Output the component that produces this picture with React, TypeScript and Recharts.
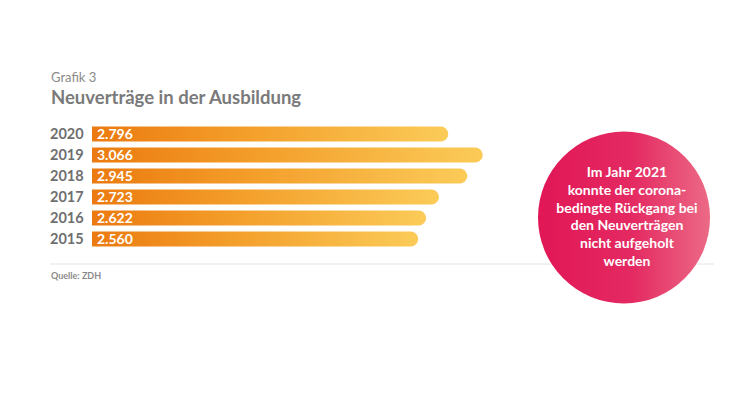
import { Bar, BarChart, LabelList, XAxis, YAxis } from 'recharts'

const years = ['2020', '2019', '2018', '2017', '2016', '2015']
const contracts = [2796, 3066, 2945, 2723, 2622, 2560]

const overline = 'Grafik 3'
const title = 'Neuverträge in der Ausbildung'
const source = 'Quelle: ZDH'
const calloutLines = [
  'Im Jahr 2021',
  'konnte der corona-',
  'bedingte Rückgang bei',
  'den Neuverträgen',
  'nicht aufgeholt',
  'werden',
]

const data = years.map((year, i) => ({ year, value: contracts[i] }))

const FONT = 'Lato, "Open Sans", sans-serif'
const LEFT = 50

const formatDe = (v: number) => {
  const s = String(Math.round(v))
  return s.length > 3 ? `${s.slice(0, -3)}.${s.slice(-3)}` : s
}

function YearTick({ y, payload }: any) {
  return (
    <text
      x={LEFT}
      y={y}
      dy="0.36em"
      textAnchor="start"
      fill="#6f6f6f"
      fontFamily={FONT}
      fontWeight={700}
      fontSize={14.5}
    >
      {payload.value}
    </text>
  )
}

export default function App() {
  return (
    <div
      style={{
        position: 'relative',
        width: 750,
        height: 395,
        margin: -8,
        background: '#fff',
        overflow: 'hidden',
      }}
    >
      <div style={{ position: 'absolute', left: 0, top: 0 }}>
        <BarChart
          width={750}
          height={395}
          data={data}
          layout="vertical"
          barSize={15}
          margin={{ top: 123.5, right: 212, bottom: 145.5, left: LEFT }}
        >
          <defs>
            <linearGradient id="barFill" x1="0" y1="0" x2="1" y2="0">
              <stop offset="0%" stopColor="#eb7a10" />
              <stop offset="45%" stopColor="#f4a02c" />
              <stop offset="100%" stopColor="#fbcb58" />
            </linearGradient>
          </defs>
          <XAxis type="number" domain={[0, 3500]} hide />
          <YAxis
            type="category"
            dataKey="year"
            width={42}
            axisLine={false}
            tickLine={false}
            tick={<YearTick />}
            interval={0}
          />
          <Bar
            dataKey="value"
            fill="url(#barFill)"
            radius={[0, 7.5, 7.5, 0]}
            isAnimationActive={false}
          >
            <LabelList
              dataKey="value"
              position="insideLeft"
              offset={5}
              formatter={(v: any) => formatDe(Number(v))}
              fill="#ffffff"
              fontFamily={FONT}
              fontWeight={700}
              fontSize={14}
            />
          </Bar>
        </BarChart>
      </div>
      <svg
        width={750}
        height={395}
        style={{ position: 'absolute', left: 0, top: 0, pointerEvents: 'none' }}
      >
        <defs>
          <linearGradient id="circleFill" x1="0" y1="0" x2="1" y2="0">
            <stop offset="0%" stopColor="#e11656" />
            <stop offset="55%" stopColor="#e42a62" />
            <stop offset="100%" stopColor="#ec6a86" />
          </linearGradient>
        </defs>
        <text x={LEFT + 1} y={81.5} fill="#8a8a8a" fontFamily={FONT} fontSize={13}>
          {overline}
        </text>
        <text
          x={LEFT + 1}
          y={104}
          fill="#7a7a7a"
          fontFamily={FONT}
          fontWeight={700}
          fontSize={18.5}
        >
          {title}
        </text>
        <line x1={LEFT} x2={714} y1={264} y2={264} stroke="#e3e3e3" strokeWidth={1} />
        <text
          x={LEFT + 1}
          y={279}
          fill="#8a8a8a"
          fontFamily={FONT}
          fontWeight={700}
          fontSize={9}
        >
          {source}
        </text>
        <circle cx={624} cy={217.5} r={86} fill="url(#circleFill)" />
        {calloutLines.map((line, i) => (
          <text
            key={line}
            x={627}
            y={177.3 + i * 17.7}
            textAnchor="middle"
            fill="#ffffff"
            fontFamily={FONT}
            fontWeight={700}
            fontSize={14}
          >
            {line}
          </text>
        ))}
      </svg>
    </div>
  )
}
